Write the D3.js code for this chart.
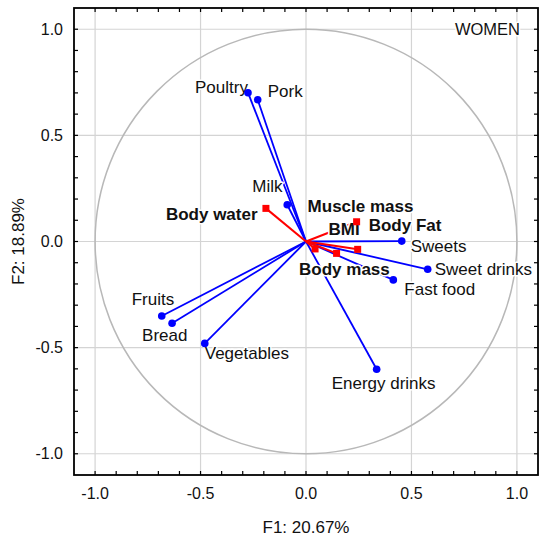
<!DOCTYPE html>
<html lang="en">
<head>
    <meta charset="UTF-8">
    <title>PCA correlation circle - Women</title>
    <script src="https://cdnjs.cloudflare.com/ajax/libs/d3/7.8.5/d3.min.js"></script>
    <style>
        body { margin: 0; background: #fff; }
        svg text { font-family: "Liberation Sans", Arial, sans-serif; fill: #111; }
        .lbl { paint-order: stroke; stroke: #fff; stroke-width: 3px; stroke-linejoin: round; }
    </style>
</head>
<body>
    <div id="chart"></div>

    <script>
        // Food variables (blue) - loadings on F1 / F2
        const foodNames = ["Poultry", "Pork", "Milk", "Sweets", "Sweet drinks", "Fast food",
                           "Energy drinks", "Vegetables", "Bread", "Fruits"];
        const foodF1 = [-0.275, -0.229, -0.089, 0.454, 0.577, 0.414, 0.335, -0.480, -0.635, -0.684];
        const foodF2 = [0.701, 0.668, 0.173, 0.002, -0.131, -0.181, -0.602, -0.480, -0.385, -0.351];

        // Body composition variables (red, supplementary)
        const bodyNames = ["Body water", "Muscle mass", "BMI", "Body Fat", "Body mass"];
        const bodyF1 = [-0.190, 0.240, 0.145, 0.245, 0.043];
        const bodyF2 = [0.156, 0.093, -0.056, -0.037, -0.035];

        const tickValues = [-1.0, -0.5, 0.0, 0.5, 1.0];
        const xTitle = "F1: 20.67%";
        const yTitle = "F2: 18.89%";
        const panelTitle = "WOMEN";

        // label offsets from the point, in pixels (text start, baseline)
        const labelOffset = {
            "Poultry": [-53, 0], "Pork": [10, -3], "Milk": [-35, -13],
            "Sweets": [9, 11], "Sweet drinks": [7, 6], "Fast food": [11, 15],
            "Energy drinks": [-45, 20], "Vegetables": [0, 16], "Bread": [-30, 18],
            "Fruits": [-30, -11],
            "Body water": [-100, 12], "Muscle mass": [-49, -10], "BMI": [-8, -18],
            "Body Fat": [11, -18], "Body mass": [-16, 26]
        };

        const W = 550, H = 543;
        const plot = {left: 74, right: 538, top: 8, bottom: 475};

        const svg = d3.select("#chart").append("svg")
            .attr("width", W)
            .attr("height", H);

        const x = d3.scaleLinear().domain([-1.1, 1.1]).range([plot.left, plot.right]);
        const y = d3.scaleLinear().domain([-1.1, 1.1]).range([plot.bottom, plot.top]);

        const foods = foodNames.map((n, i) => ({name: n, f1: foodF1[i], f2: foodF2[i]}));
        const body = bodyNames.map((n, i) => ({name: n, f1: bodyF1[i], f2: bodyF2[i]}));

        // grid
        const grid = svg.append("g").attr("stroke", "#d4d4d4").attr("stroke-width", 1.2);
        grid.selectAll(".gx").data(tickValues).enter().append("line")
            .attr("x1", d => x(d)).attr("x2", d => x(d))
            .attr("y1", plot.top).attr("y2", plot.bottom);
        grid.selectAll(".gy").data(tickValues).enter().append("line")
            .attr("y1", d => y(d)).attr("y2", d => y(d))
            .attr("x1", plot.left).attr("x2", plot.right);

        // unit circle
        svg.append("ellipse")
            .attr("cx", x(0)).attr("cy", y(0))
            .attr("rx", x(1) - x(0)).attr("ry", y(0) - y(1))
            .attr("fill", "none")
            .attr("stroke", "#b8b8b8")
            .attr("stroke-width", 1.5);

        // vectors
        svg.selectAll(".foodline").data(foods).enter().append("line")
            .attr("x1", x(0)).attr("y1", y(0))
            .attr("x2", d => x(d.f1)).attr("y2", d => y(d.f2))
            .attr("stroke", "#0000ff")
            .attr("stroke-width", 1.8);

        svg.selectAll(".bodyline").data(body).enter().append("line")
            .attr("x1", x(0)).attr("y1", y(0))
            .attr("x2", d => x(d.f1)).attr("y2", d => y(d.f2))
            .attr("stroke", "#ff0000")
            .attr("stroke-width", 2);

        // labels
        svg.selectAll(".flabel").data(foods).enter().append("text")
            .attr("class", "lbl")
            .attr("x", d => x(d.f1) + labelOffset[d.name][0])
            .attr("y", d => y(d.f2) + labelOffset[d.name][1])
            .attr("font-size", 17)
            .text(d => d.name);

        svg.selectAll(".blabel").data(body).enter().append("text")
            .attr("class", "lbl")
            .attr("x", d => x(d.f1) + labelOffset[d.name][0])
            .attr("y", d => y(d.f2) + labelOffset[d.name][1])
            .attr("font-size", 17)
            .attr("font-weight", 700)
            .text(d => d.name);

        // markers
        svg.selectAll(".fdot").data(foods).enter().append("circle")
            .attr("cx", d => x(d.f1)).attr("cy", d => y(d.f2))
            .attr("r", 3.8)
            .attr("fill", "#0000ff");

        svg.selectAll(".bsq").data(body).enter().append("rect")
            .attr("x", d => x(d.f1) - 3.5).attr("y", d => y(d.f2) - 3.5)
            .attr("width", 7).attr("height", 7)
            .attr("fill", "#ff0000");

        // ticks inside frame, every 0.1
        const minor = d3.range(-10, 11).map(i => i / 10);
        const tk = svg.append("g").attr("stroke", "#000").attr("stroke-width", 1.2);
        minor.forEach(v => {
            tk.append("line").attr("x1", x(v)).attr("x2", x(v)).attr("y1", plot.bottom).attr("y2", plot.bottom - 4);
            tk.append("line").attr("x1", x(v)).attr("x2", x(v)).attr("y1", plot.top).attr("y2", plot.top + 4);
            tk.append("line").attr("y1", y(v)).attr("y2", y(v)).attr("x1", plot.left).attr("x2", plot.left + 4);
            tk.append("line").attr("y1", y(v)).attr("y2", y(v)).attr("x1", plot.right).attr("x2", plot.right - 4);
        });

        // frame
        svg.append("rect")
            .attr("x", plot.left).attr("y", plot.top)
            .attr("width", plot.right - plot.left)
            .attr("height", plot.bottom - plot.top)
            .attr("fill", "none")
            .attr("stroke", "#000")
            .attr("stroke-width", 1.8);

        // tick labels (plain hyphen for negatives, as in the original)
        const fmt = v => d3.format(".1f")(v).replace("\u2212", "-");
        svg.selectAll(".xt").data(tickValues).enter().append("text")
            .attr("x", d => x(d)).attr("y", 499)
            .attr("text-anchor", "middle")
            .attr("font-size", 16)
            .text(d => fmt(d));
        svg.selectAll(".yt").data(tickValues).enter().append("text")
            .attr("x", 63).attr("y", d => y(d) + 5.5)
            .attr("text-anchor", "end")
            .attr("font-size", 16)
            .text(d => fmt(d));

        // axis titles
        svg.append("text")
            .attr("x", x(0)).attr("y", 533)
            .attr("text-anchor", "middle")
            .attr("font-size", 17)
            .text(xTitle);
        svg.append("text")
            .attr("transform", `translate(23.5,${y(0)}) rotate(-90)`)
            .attr("text-anchor", "middle")
            .attr("font-size", 17)
            .text(yTitle);

        // panel title
        svg.append("text")
            .attr("class", "lbl")
            .attr("x", 520).attr("y", 35)
            .attr("text-anchor", "end")
            .attr("font-size", 16.5)
            .text(panelTitle);
    </script>
</body>
</html>
